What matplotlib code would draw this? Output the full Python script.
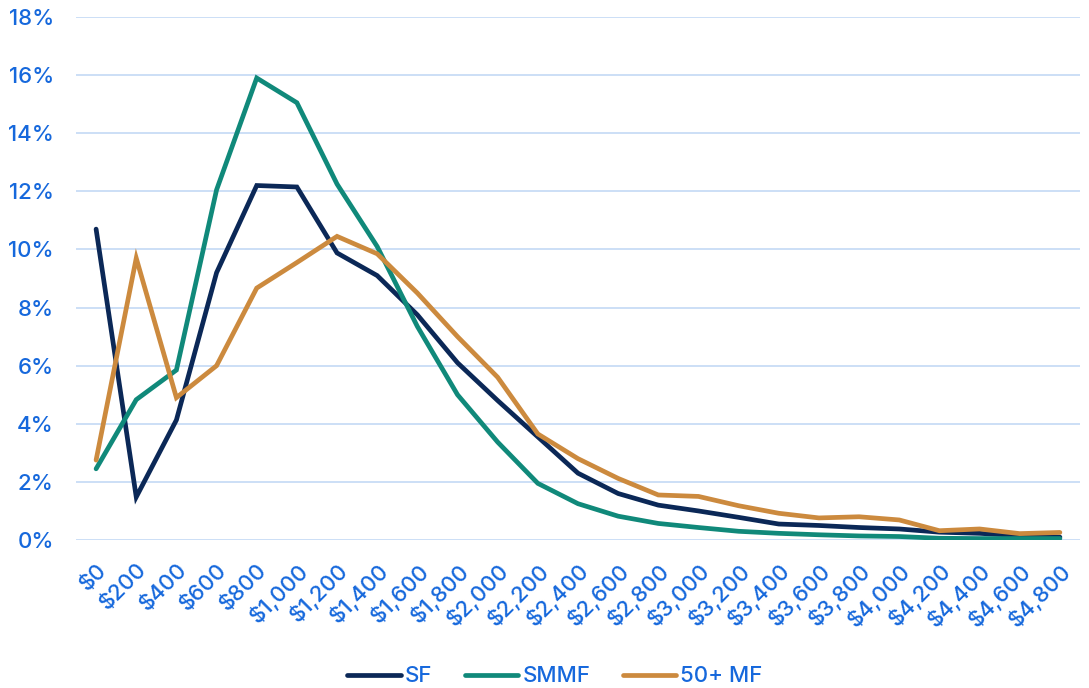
import numpy as np
import matplotlib.pyplot as plt
from matplotlib.ticker import FuncFormatter

# Share of units by monthly rent bucket, in percent
rent_labels = ['$0', '$200', '$400', '$600', '$800', '$1,000', '$1,200', '$1,400',
               '$1,600', '$1,800', '$2,000', '$2,200', '$2,400', '$2,600', '$2,800',
               '$3,000', '$3,200', '$3,400', '$3,600', '$3,800', '$4,000', '$4,200',
               '$4,400', '$4,600', '$4,800']

sf = [10.7, 1.48, 4.13, 9.2, 12.2, 12.15, 9.88, 9.1, 7.75, 6.1, 4.8, 3.55,
      2.3, 1.6, 1.2, 1.0, 0.78, 0.55, 0.5, 0.43, 0.38, 0.27, 0.23, 0.15, 0.1]
smmf = [2.45, 4.83, 5.85, 12.05, 15.9, 15.05, 12.25, 10.1, 7.35, 5.0, 3.37, 1.95,
        1.25, 0.82, 0.57, 0.43, 0.3, 0.23, 0.18, 0.14, 0.12, 0.06, 0.05, 0.05, 0.05]
mf50 = [2.75, 9.7, 4.9, 6.0, 8.67, 9.55, 10.45, 9.85, 8.5, 7.0, 5.6, 3.65,
        2.8, 2.12, 1.55, 1.5, 1.18, 0.92, 0.76, 0.8, 0.69, 0.32, 0.38, 0.22, 0.26]

series_names = ['SF', 'SMMF', '50+ MF']
colors = ['#0b2857', '#10897a', '#cc8a3e']
text_blue = '#1668dc'

plt.rcParams['font.family'] = ['Inter', 'DejaVu Sans']
plt.rcParams['font.weight'] = 500

fig = plt.figure(figsize=(10.89, 6.88), dpi=100)
ax = fig.add_axes([0.0698, 0.2151, 0.9219, 0.7602])

x = np.arange(len(rent_labels))
for vals, name, c in zip([sf, smmf, mf50], series_names, colors):
    ax.plot(x, vals, color=c, linewidth=3.4, label=name,
            solid_capstyle='round', solid_joinstyle='miter')

ax.set_xlim(-0.5, len(rent_labels) - 0.5)
ax.set_ylim(0, 18)
ax.set_yticks(np.arange(0, 19, 2))
ax.yaxis.set_major_formatter(FuncFormatter(lambda v, p: f'{v:.0f}%'))
ax.set_xticks(x)
ax.set_xticklabels(rent_labels, rotation=45, ha='right', rotation_mode='anchor')

ax.grid(axis='y', color='#c8dcf6', linewidth=1.3)
ax.set_axisbelow(True)
for s in ax.spines.values():
    s.set_visible(False)
ax.tick_params(axis='both', length=0, labelsize=16, colors=text_blue)
ax.tick_params(axis='x', pad=14)
ax.tick_params(axis='y', pad=16)

leg = ax.legend(loc='lower center', bbox_to_anchor=(0.477, -0.318), ncol=3,
                frameon=False, fontsize=16, handlelength=2.4, handletextpad=0.2,
                columnspacing=1.45)
for t in leg.get_texts():
    t.set_color(text_blue)
for h in leg.get_lines():
    h.set_solid_capstyle('round')

fig.savefig('out.png', dpi=100)
